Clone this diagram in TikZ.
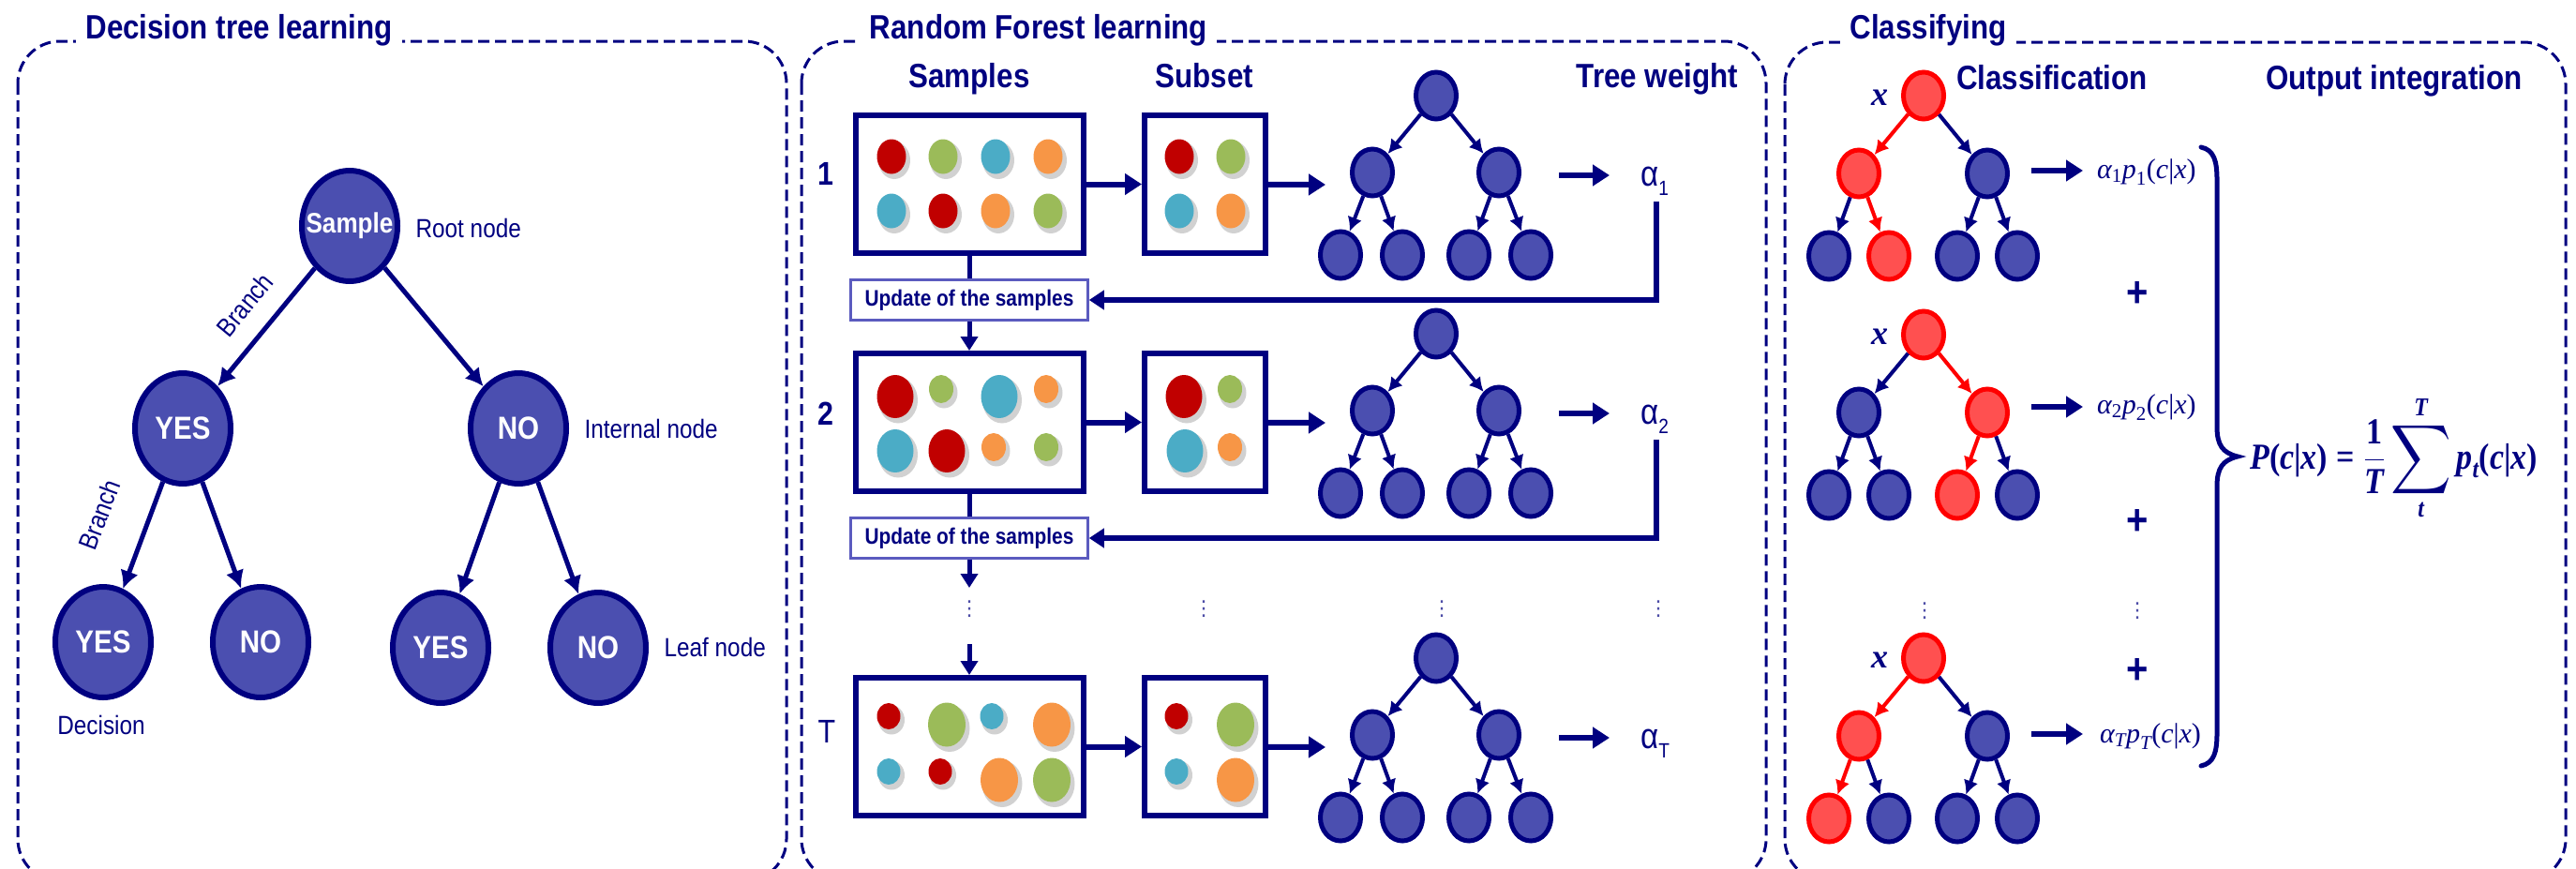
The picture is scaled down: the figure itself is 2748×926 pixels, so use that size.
\RequirePackage{fix-cm}
\documentclass[tikz,border=0pt]{standalone}
\usepackage{amsmath}
\usepackage[no-math]{fontspec}
\setmainfont{Liberation Sans}[FakeStretch=0.87]
\newfontfamily\dejavu{DejaVu Sans}
\newfontfamily\lsb{Liberation Serif}
\usetikzlibrary{shapes.geometric,arrows.meta}
\definecolor{dnavy}{HTML}{000080}
\definecolor{nfill}{HTML}{4B4FB0}
\definecolor{rfill}{HTML}{FF5050}
\definecolor{dred}{HTML}{C00000}
\definecolor{dgreen}{HTML}{9BBB59}
\definecolor{dteal}{HTML}{4BACC6}
\definecolor{dorange}{HTML}{F79646}
\definecolor{ubox}{HTML}{5B5BBF}
\newcommand\fs[1]{\fontsize{#1}{#1}\selectfont}
\newcommand\bi[1]{\text{\lsb\bfseries\itshape #1}}
\newcommand\bu[1]{\text{\lsb\bfseries #1}}
\newcommand\ri[1]{\text{\lsb\itshape #1}}
\newcommand\ru[1]{\text{\lsb #1}}
\newcommand\bigsum{\mathop{\vcenter{\hbox{\scalebox{1.8}{$\displaystyle\sum$}}}}\limits}
\newcommand\mydot[5]{%
  \fill[black!45,opacity=.4] (#1+3,#2+4) ellipse [x radius=#3+1.5, y radius=#4+1.5];
  \fill[#5] (#1,#2) ellipse [x radius=#3, y radius=#4];}
\tikzset{
 panel/.style={draw=dnavy, line width=3pt, dash pattern=on 12pt off 6pt, rounded corners=45pt},
 ptitle/.style={fill=white, text=dnavy, font=\bfseries\fs{36}, inner xsep=10pt, inner ysep=3pt, anchor=base},
 chead/.style={text=dnavy, font=\bfseries\fs{36}, anchor=base, inner sep=0pt},
 bnode/.style={ellipse, draw=dnavy, line width=6pt, fill=nfill, minimum width=102pt, minimum height=118pt, inner sep=0pt},
 btext/.style={text=white, font=\bfseries\fs{34}},
 lab/.style={text=dnavy, font=\fs{28}},
 barr/.style={draw=dnavy, line width=5pt, -{Latex[length=19pt,width=20pt]}},
 tnode/.style={ellipse, draw=dnavy, line width=5pt, fill=nfill, minimum width=43pt, minimum height=50pt, inner sep=0pt},
 rnode/.style={tnode, draw=red, fill=rfill},
 tarr/.style={draw=dnavy, line width=4pt, -{Latex[length=15pt,width=16pt]}},
 rarr/.style={tarr, draw=red},
 sbox/.style={draw=dnavy, line width=6pt, minimum height=147pt, inner sep=0pt},
 harr/.style={draw=dnavy, line width=6pt, -{Triangle[length=18pt,width=22pt]}},
 vline/.style={draw=dnavy, line width=5pt},
 varr/.style={draw=dnavy, line width=5pt, -{Triangle[length=15pt,width=18pt]}},
 upd/.style={draw=ubox, line width=2.5pt, fill=white, minimum width=253pt, minimum height=43pt, text=dnavy, font=\bfseries\fs{24}, inner sep=0pt},
 rowlab/.style={text=dnavy, font=\fs{35}},
 alab/.style={text=dnavy, font=\fs{38}, anchor=base west, inner sep=0pt},
 fb/.style={draw=dnavy, line width=5.5pt, -{Triangle[length=16pt,width=20pt]}},
 vd/.style={text=dnavy!70, font=\dejavu\fs{22}, inner sep=0pt},
 plus/.style={text=dnavy, font=\bfseries\fs{46}, inner sep=0pt},
 fml/.style={text=dnavy, anchor=base west, inner sep=0pt},
}
\begin{document}
\begin{tikzpicture}[x=1pt,y=-1pt]
\useasboundingbox (0,0) rectangle (2748,926);
\begin{scope}
\clip (0,0) rectangle (2748,926);
\draw[panel] (19,44) rectangle (839,940);
\draw[panel] (855,44) rectangle (1884,940);
\draw[panel] (1904,45) rectangle (2737,940);
\end{scope}
\node[ptitle] (t1) at (255,41) {Decision tree learning};
\node[ptitle] (t2) at (1108,41) {Random Forest learning};
\node[ptitle] (t3) at (2057,41) {Classifying};

% ---------- Panel 1 ----------
\node[bnode, label={[btext,font=\bfseries\fs{30}]center:Sample}] (root) at (373,241) {};
\node[bnode, label={[btext]center:YES}] (yes) at (195,457) {};
\node[bnode, label={[btext]center:NO}] (no) at (553,457) {};
\node[bnode, label={[btext]center:YES}] (l1) at (110,685) {};
\node[bnode, label={[btext]center:NO}] (l2) at (278,685) {};
\node[bnode, label={[btext]center:YES}] (l3) at (470,691) {};
\node[bnode, label={[btext]center:NO}] (l4) at (638,691) {};
\draw[barr] (root) -- (yes);
\draw[barr] (root) -- (no);
\draw[barr] (yes) -- (l1);
\draw[barr] (yes) -- (l2);
\draw[barr] (no) -- (l3);
\draw[barr] (no) -- (l4);
\node[lab, anchor=west] (rn) at (440,243) {Root node};
\node[lab, anchor=west] (inn) at (620,457) {Internal node};
\node[lab, anchor=west] (lfn) at (705,690) {Leaf node};
\node[lab] (dcs) at (108,773) {Decision};
\node[lab, rotate=50.5] (br1) at (261,325) {Branch};
\node[lab, rotate=69.5] (br2) at (106,549) {Branch};

% ---------- Panel 2 ----------
\node[chead] (hs) at (1034,93) {Samples};
\node[chead] (hsub) at (1285,93) {Subset};
\node[chead] (htw) at (1768,93) {Tree weight};

\node[rowlab, font=\bfseries\fs{35}] (r1) at (881,185) {1};
\node[rowlab, font=\bfseries\fs{35}] (r2) at (881,441) {2};
\node[rowlab] (r3) at (882,780) {T};

\foreach \r/\d in {1/0,2/254,3/600}{
  \node[sbox, minimum width=243pt] (sb\r) at (1034,196.5+\d) {};
  \node[sbox, minimum width=129pt] (ss\r) at (1285.5,196.5+\d) {};
  \draw[harr] (sb\r) -- (ss\r);
  \coordinate (ta\r) at (1414,197+\d);
  \draw[harr] (ss\r) -- (ta\r);
  \node[tnode] (m\r a) at (1532,102+\d) {};
  \node[tnode] (m\r b) at (1464,184+\d) {};
  \node[tnode] (m\r c) at (1599,184+\d) {};
  \node[tnode] (m\r d) at (1430,272+\d) {};
  \node[tnode] (m\r e) at (1496,272+\d) {};
  \node[tnode] (m\r f) at (1567,272+\d) {};
  \node[tnode] (m\r g) at (1633,272+\d) {};
  \draw[tarr] (m\r a) -- (m\r b);
  \draw[tarr] (m\r a) -- (m\r c);
  \draw[tarr] (m\r b) -- (m\r d);
  \draw[tarr] (m\r b) -- (m\r e);
  \draw[tarr] (m\r c) -- (m\r f);
  \draw[tarr] (m\r c) -- (m\r g);
  \coordinate (aa\r) at (1663,187+\d);
  \coordinate (ab\r) at (1717,187+\d);
  \draw[harr] (aa\r) -- (ab\r);
}
\node[alab] (al1) at (1750,198) {α\raisebox{-0.27em}{\fs{22}1}};
\node[alab] (al2) at (1750,452) {α\raisebox{-0.27em}{\fs{22}2}};
\node[alab] (al3) at (1750,798) {α\raisebox{-0.27em}{\fs{22}T}};

\node[upd] (up1) at (1034,320) {Update of the samples};
\node[upd] (up2) at (1034,574) {Update of the samples};
\draw[vline] (sb1) -- (up1);
\draw[varr] (up1) -- (sb2);
\draw[vline] (sb2) -- (up2);
\coordinate (dn1) at (1034,627);
\draw[varr] (up2) -- (dn1);
\coordinate (dn2) at (1034,687);
\draw[varr] (dn2) -- (sb3);
\coordinate (fb1) at (1767,215);
\coordinate (fb2) at (1767,469);
\draw[fb] (fb1) |- (up1);
\draw[fb] (fb2) |- (up2);

\node[vd] (v1) at (1034,650) {⋮};
\node[vd] (v2) at (1284,650) {⋮};
\node[vd] (v3) at (1538,650) {⋮};
\node[vd] (v4) at (1769,650) {⋮};

% dots row 1
\mydot{951}{167}{15.5}{18.5}{dred}
\mydot{1006}{167}{15.5}{18.5}{dgreen}
\mydot{1062}{167}{15.5}{18.5}{dteal}
\mydot{1118}{167}{15.5}{18.5}{dorange}
\mydot{951}{225}{15.5}{18.5}{dteal}
\mydot{1006}{225}{15.5}{18.5}{dred}
\mydot{1062}{225}{15.5}{18.5}{dorange}
\mydot{1118}{225}{15.5}{18.5}{dgreen}
\mydot{1258}{167}{15.5}{18.5}{dred}
\mydot{1313}{167}{15.5}{18.5}{dgreen}
\mydot{1258}{225}{15.5}{18.5}{dteal}
\mydot{1313}{225}{15.5}{18.5}{dorange}
% dots row 2
\mydot{955}{423}{19.5}{23}{dred}
\mydot{1004}{415}{13}{15}{dgreen}
\mydot{1066}{423}{19.5}{23}{dteal}
\mydot{1116}{415}{13}{15}{dorange}
\mydot{955}{481}{19.5}{23}{dteal}
\mydot{1010}{481}{19.5}{23}{dred}
\mydot{1060}{477}{13}{15}{dorange}
\mydot{1116}{477}{13}{15}{dgreen}
\mydot{1263}{423}{19.5}{23}{dred}
\mydot{1312}{415}{13}{15}{dgreen}
\mydot{1264}{481}{19.5}{23}{dteal}
\mydot{1312}{477}{13}{15}{dorange}
% dots row T
\mydot{948}{764}{12.5}{14}{dred}
\mydot{1010}{773}{20}{23.5}{dgreen}
\mydot{1058}{764}{12.5}{14}{dteal}
\mydot{1122}{773}{20}{23.5}{dorange}
\mydot{948}{823}{12.5}{14}{dteal}
\mydot{1003}{823}{12.5}{14}{dred}
\mydot{1066}{832}{20}{23.5}{dorange}
\mydot{1122}{832}{20}{23.5}{dgreen}
\mydot{1255}{764}{12.5}{14}{dred}
\mydot{1318}{773}{20}{23.5}{dgreen}
\mydot{1255}{823}{12.5}{14}{dteal}
\mydot{1318}{832}{20}{23.5}{dorange}

% ---------- Panel 3 ----------
\node[chead] (hc) at (2189,95) {Classification};
\node[chead] (ho) at (2554,95) {Output integration};

% tree 1
\node[rnode] (c1a) at (2052,102) {};
\node[rnode] (c1b) at (1983,185) {};
\node[tnode] (c1c) at (2120,185) {};
\node[tnode] (c1d) at (1951,273) {};
\node[rnode] (c1e) at (2015,273) {};
\node[tnode] (c1f) at (2088,273) {};
\node[tnode] (c1g) at (2152,273) {};
\draw[rarr] (c1a) -- (c1b);
\draw[tarr] (c1a) -- (c1c);
\draw[tarr] (c1b) -- (c1d);
\draw[rarr] (c1b) -- (c1e);
\draw[tarr] (c1c) -- (c1f);
\draw[tarr] (c1c) -- (c1g);
% tree 2
\node[rnode] (c2a) at (2052,357) {};
\node[tnode] (c2b) at (1983,440) {};
\node[rnode] (c2c) at (2120,440) {};
\node[tnode] (c2d) at (1951,528) {};
\node[tnode] (c2e) at (2015,528) {};
\node[rnode] (c2f) at (2088,528) {};
\node[tnode] (c2g) at (2152,528) {};
\draw[tarr] (c2a) -- (c2b);
\draw[rarr] (c2a) -- (c2c);
\draw[tarr] (c2b) -- (c2d);
\draw[tarr] (c2b) -- (c2e);
\draw[rarr] (c2c) -- (c2f);
\draw[tarr] (c2c) -- (c2g);
% tree T
\node[rnode] (c3a) at (2052,702) {};
\node[rnode] (c3b) at (1983,785) {};
\node[tnode] (c3c) at (2120,785) {};
\node[rnode] (c3d) at (1951,873) {};
\node[tnode] (c3e) at (2015,873) {};
\node[tnode] (c3f) at (2088,873) {};
\node[tnode] (c3g) at (2152,873) {};
\draw[rarr] (c3a) -- (c3b);
\draw[tarr] (c3a) -- (c3c);
\draw[rarr] (c3b) -- (c3d);
\draw[tarr] (c3b) -- (c3e);
\draw[tarr] (c3c) -- (c3f);
\draw[tarr] (c3c) -- (c3g);

\node[fml, anchor=base] (x1) at (2005,112) {\lsb\bfseries\itshape\fs{36}x};
\node[fml, anchor=base] (x2) at (2005,367) {\lsb\bfseries\itshape\fs{36}x};
\node[fml, anchor=base] (x3) at (2005,712) {\lsb\bfseries\itshape\fs{36}x};

\coordinate (ca1) at (2167,182); \coordinate (cb1) at (2222,182);
\coordinate (ca2) at (2167,434); \coordinate (cb2) at (2222,434);
\coordinate (ca3) at (2167,783); \coordinate (cb3) at (2222,783);
\draw[harr] (ca1) -- (cb1);
\draw[harr] (ca2) -- (cb2);
\draw[harr] (ca3) -- (cb3);

\node[fml] (f1) at (2237,190) {\fs{30}$\ri{α}_{\ru{1}}\ri{p}_{\ru{1}}\ru{(}\ri{c}\ru{|}\ri{x}\ru{)}$};
\node[fml] (f2) at (2237,441) {\fs{30}$\ri{α}_{\ru{2}}\ri{p}_{\ru{2}}\ru{(}\ri{c}\ru{|}\ri{x}\ru{)}$};
\node[fml] (f3) at (2240,792) {\fs{30}$\ri{α}_{\ri{T}}\ri{p}_{\ri{T}}\ru{(}\ri{c}\ru{|}\ri{x}\ru{)}$};

\node[plus] (p1) at (2280,314) {+};
\node[plus] (p2) at (2280,557) {+};
\node[plus] (p3) at (2280,716) {+};
\node[vd] (v5) at (2053,652) {⋮};
\node[vd] (v6) at (2280,652) {⋮};

\draw[dnavy, line width=5pt, line cap=round]
  (2348,157) .. controls (2362,160) and (2365,172) .. (2365,192)
  -- (2365,455) .. controls (2365,475) and (2371,483) .. (2387,487)
  .. controls (2371,491) and (2365,499) .. (2365,519)
  -- (2365,782) .. controls (2365,802) and (2362,814) .. (2348,817);

\node[fml] (fo) at (2400,500) {\fs{34}\scalebox{1}[1.15]{$\displaystyle \bi{P}\bu{(}\bi{c}\bu{|}\bi{x}\bu{)}\mathrel{\bu{=}}\frac{\bu{1}}{\bi{T}}\bigsum_{\bi{t}}^{\bi{T}}\bi{p}_{\bi{t}}\bu{(}\bi{c}\bu{|}\bi{x}\bu{)}$}};
\end{tikzpicture}
\end{document}
